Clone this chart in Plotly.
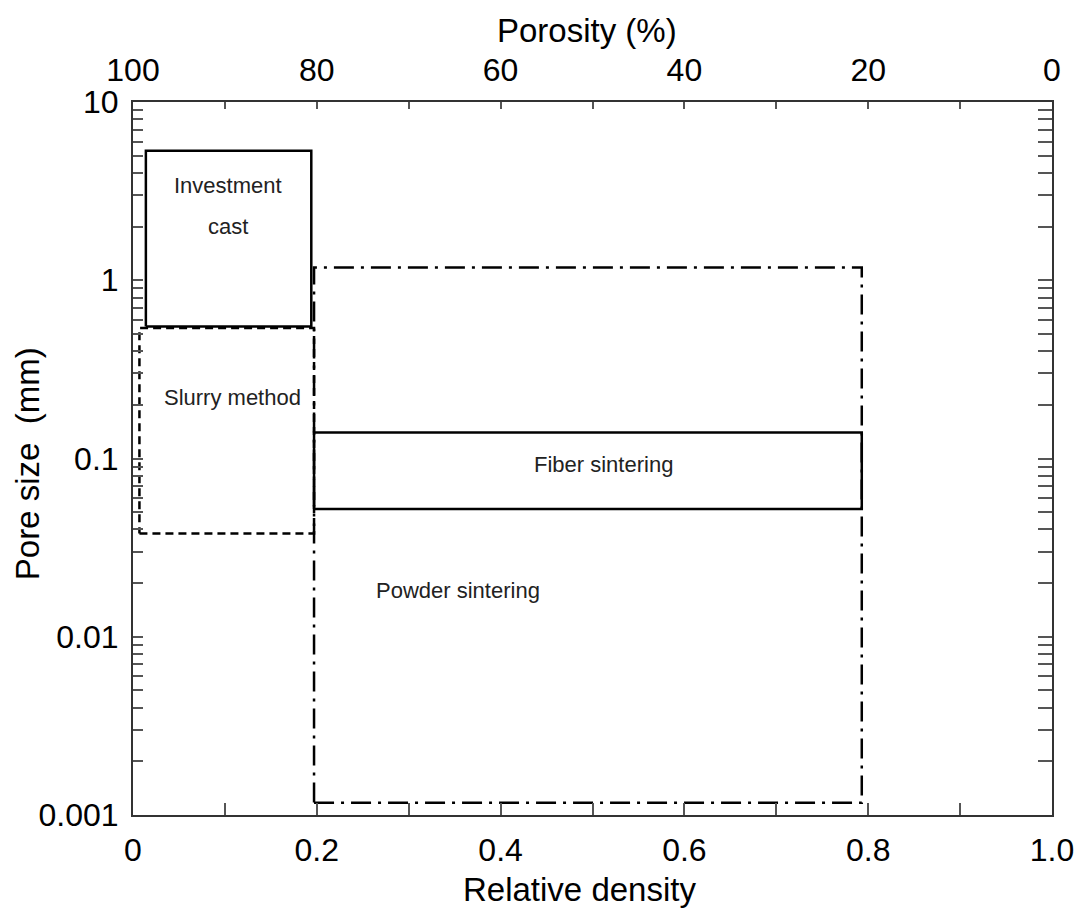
import math
import plotly.graph_objects as go

# ---- data ----
methods = ["Investment cast", "Slurry method", "Powder sintering", "Fiber sintering"]
rd_min = [0.014, 0.007, 0.197, 0.197]
rd_max = [0.194, 0.197, 0.793, 0.793]
pore_min = [0.55, 0.038, 0.00117, 0.052]
pore_max = [5.33, 0.54, 1.18, 0.14]
dashes = ["solid", "8px,5px", "20px,7px,3px,7px", "solid"]

x_ticks = [0.0, 0.1, 0.2, 0.3, 0.4, 0.5, 0.6, 0.7, 0.8, 0.9, 1.0]
x_labels = ["0", "", "0.2", "", "0.4", "", "0.6", "", "0.8", "", "1.0"]
porosity_labels = ["100", "", "80", "", "60", "", "40", "", "20", "", "0"]
decades = [0.001, 0.01, 0.1, 1, 10]
decade_labels = ["0.001", "0.01", "0.1", "1", "10"]

# y ticks: decades plus minor 2..9
y_ticks, y_labels = [], []
for i, d in enumerate(decades):
    y_ticks.append(d)
    y_labels.append(decade_labels[i])
    if d < 10:
        for m in range(2, 10):
            y_ticks.append(d * m)
            y_labels.append("")

FONT = "Liberation Sans, Arial, sans-serif"
fig = go.Figure()

for i, name in enumerate(methods):
    x0, x1, y0, y1 = rd_min[i], rd_max[i], pore_min[i], pore_max[i]
    fig.add_trace(go.Scatter(
        x=[x0, x1, x1, x0, x0], y=[y0, y0, y1, y1, y0],
        mode="lines", line=dict(color="black", width=2.5, dash=dashes[i]),
        name=name, showlegend=False, hoverinfo="skip"))

# invisible trace for secondary axes
fig.add_trace(go.Scatter(x=[0.5], y=[1], xaxis="x2", yaxis="y2", mode="markers",
                         marker=dict(opacity=0), showlegend=False, hoverinfo="skip"))

axcol = "#333333"
tickfont = dict(size=32, family=FONT, color="black")
fig.update_layout(
    width=1078, height=903,
    margin=dict(l=125, r=32, t=94, b=96),
    paper_bgcolor="white", plot_bgcolor="white",
    font=dict(family=FONT, color="black"),
    xaxis=dict(range=[0, 1], tickvals=x_ticks, ticktext=x_labels, ticks="inside",
               ticklen=12, tickwidth=1.5, tickcolor="#555", showgrid=False, zeroline=False,
               showline=True, linecolor=axcol, linewidth=2, tickfont=tickfont,
               ticklabelstandoff=6),
    xaxis2=dict(range=[0, 1], overlaying="x", side="top", tickvals=x_ticks,
                ticktext=porosity_labels, ticks="inside", ticklen=7, tickwidth=1.5,
                tickcolor="#555", showgrid=False, zeroline=False, showline=True,
                linecolor=axcol, linewidth=2, tickfont=tickfont, ticklabelstandoff=6),
    yaxis=dict(type="log", range=[-3, 1], tickvals=y_ticks, ticktext=y_labels,
               ticks="inside", ticklen=10, tickwidth=1.5, tickcolor="#555", showgrid=False,
               zeroline=False, showline=True, linecolor=axcol, linewidth=2,
               tickfont=tickfont, ticklabelstandoff=6),
    yaxis2=dict(type="log", range=[-3, 1], overlaying="y", side="right", tickvals=y_ticks,
                ticktext=["" for _ in y_ticks], ticks="inside", ticklen=14, tickwidth=1.5,
                tickcolor="#555", showgrid=False, zeroline=False, showline=True,
                linecolor=axcol, linewidth=2, showticklabels=False),
)

ann_font = dict(size=22, family=FONT, color="#222")
labels = [("Investment", 0.103, 3.41), ("cast", 0.103, 2.0),
          ("Slurry method", 0.1086, 0.221), ("Fiber sintering", 0.5125, 0.092),
          ("Powder sintering", 0.3536, 0.0181)]
for text, x, y in labels:
    fig.add_annotation(x=x, y=math.log10(y), xref="x", yref="y", text=text,
                       showarrow=False, font=ann_font)


def px(xp):
    return (xp - 133) / 921


def py(yp):
    return (815 - yp) / 713


title_font = dict(size=33, family=FONT, color="black")
fig.add_annotation(x=px(580), y=py(889), xref="paper", yref="paper",
                   text="Relative density", showarrow=False, font=title_font,
                   xanchor="center", yanchor="middle")
fig.add_annotation(x=px(588), y=py(30), xref="paper", yref="paper",
                   text="Porosity (%)", showarrow=False, font=title_font,
                   xanchor="center", yanchor="middle")
fig.add_annotation(x=px(27), y=py(464), xref="paper", yref="paper",
                   text="Pore size  (mm)", showarrow=False, font=title_font, textangle=-90,
                   xanchor="center", yanchor="middle")

fig.write_html("out.html")
